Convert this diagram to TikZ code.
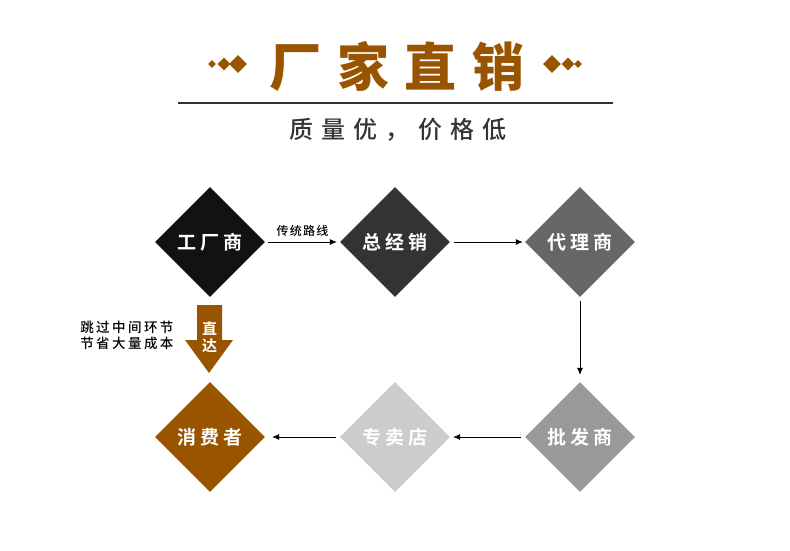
\documentclass[tikz,border=0pt]{standalone}
\usepackage{fontspec}
\usepackage{xcolor}
\usepackage{tikz}
\usetikzlibrary{arrows.meta,positioning,shapes.geometric}
\newfontfamily\cjk[BoldFont={Noto Sans CJK SC Bold}]{Noto Sans CJK SC}
\newfontfamily\cjkmed{Noto Sans CJK SC Medium}
\newfontfamily\cjkheavy{Noto Sans CJK SC Black}
\definecolor{brownc}{RGB}{153,84,0}
\definecolor{inkc}{RGB}{51,51,51}

\begin{document}
\begin{tikzpicture}[
  x=1pt, y=-1pt,
  font=\cjk,
  stepbox/.style={diamond, fill=#1, inner sep=0pt, minimum width=110pt, minimum height=110pt,
    text=white, font=\cjk\bfseries\fontsize{19}{19}\selectfont\addfontfeatures{LetterSpace=20}},
  flow/.style={-{Latex[length=7pt,width=6pt]}, line width=0.7pt, black},
  deco/.style={diamond, fill=brownc, inner sep=0pt, minimum size=#1},
  note/.style={align=right, font=\cjkmed\fontsize{13.5}{16}\selectfont\addfontfeatures{LetterSpace=18}}
]
\useasboundingbox (0,0) rectangle (790,551);

% title
\node[text=brownc, font=\cjkheavy\fontsize{52}{52}\selectfont\addfontfeatures{LetterSpace=30}] (title) at (397,66) {厂家直销};
\foreach \x/\s [count=\i] in {212/8,224/13,238/18,552/18,568/13,578/8} {
  \node[deco=\s pt] (d\i) at (\x,64) {};
}
\draw[inkc, line width=2pt] (178,103) -- (613,103);
\node[text=inkc, font=\cjkmed\fontsize{24}{24}\selectfont\addfontfeatures{LetterSpace=34}] (sub) at (398,130) {质量优，价格低};

% flow
\node[stepbox={black!93}] (fac) at (210,242) {工厂商};
\node[stepbox={black!80}] (gen) at (395,242) {总经销};
\node[stepbox={black!60}] (agt) at (580,242) {代理商};
\node[stepbox={black!40}] (whl) at (580,437) {批发商};
\node[stepbox={black!20}] (sto) at (395,437) {专卖店};
\node[stepbox=brownc] (cus) at (210,437) {消费者};

\draw[flow] (fac.east) ++(3,0) -- ([xshift=-3pt]gen.west) node[midway, above=2pt, font=\cjkmed\fontsize{12}{12}\selectfont\addfontfeatures{LetterSpace=10}] {传统路线};
\draw[flow] ([xshift=4pt]gen.east) -- ([xshift=-2pt]agt.west);
\draw[flow] ([yshift=-4pt]agt.south) -- ([yshift=7pt]whl.north);
\draw[flow] ([xshift=-4pt]whl.west) -- ([xshift=3pt]sto.east);
\draw[flow] ([xshift=-4pt]sto.west) -- ([xshift=7pt]cus.east);

% direct
\fill[brownc] (197,305) -- (222,305) -- (222,340) -- (233,340) -- (209,373) -- (185,340) -- (197,340) -- cycle;
\node[text=white, align=center, font=\cjk\bfseries\fontsize{15}{17}\selectfont] (dir) at (209.5,337) {直\\达};
\node[note, anchor=east] (skip) at (177,335) {跳过中间环节\\节省大量成本};
\end{tikzpicture}
\end{document}
